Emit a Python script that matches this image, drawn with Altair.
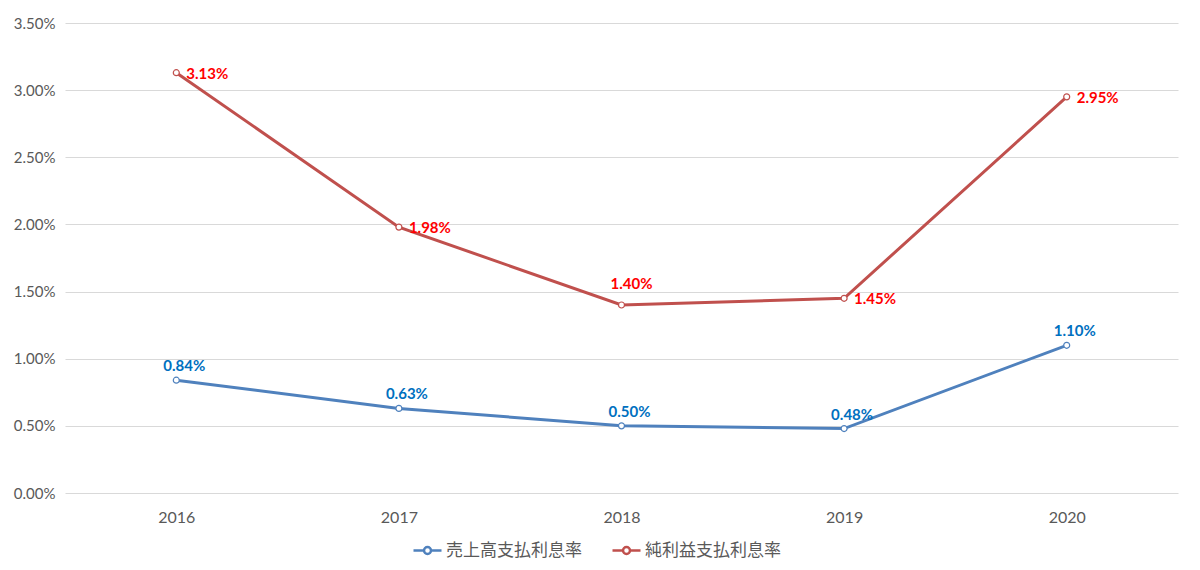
import altair as alt
import pandas as pd

years = ["2016", "2017", "2018", "2019", "2020"]
sales_rate = [0.0084, 0.0063, 0.0050, 0.0048, 0.0110]
profit_rate = [0.0313, 0.0198, 0.0140, 0.0145, 0.0295]
series_names = ["売上高支払利息率", "純利益支払利息率"]
line_colors = ["#4F81BD", "#C0504D"]
label_colors = ["#0070C0", "#FF0000"]

rows = []
for y, v in zip(years, sales_rate):
    rows.append({"year": y, "value": v, "series": series_names[0]})
for y, v in zip(years, profit_rate):
    rows.append({"year": y, "value": v, "series": series_names[1]})
df = pd.DataFrame(rows)

FONT = "Lato, Noto Sans CJK JP, sans-serif"

x = alt.X("year:O", scale=alt.Scale(type="point", padding=0.5),
          axis=alt.Axis(title=None, labelAngle=0, domain=False, ticks=False, grid=False,
                        labelFontSize=16, labelColor="#595959", labelFont=FONT, labelPadding=16))
y = alt.Y("value:Q", scale=alt.Scale(domain=[0, 0.035], nice=False),
          axis=alt.Axis(title=None, format=".2%", values=[0, 0.005, 0.01, 0.015, 0.02, 0.025, 0.03, 0.035],
                        domain=False, ticks=False, grid=True, gridColor="#D9D9D9", gridWidth=1,
                        labelFontSize=15, labelColor="#595959", labelFont=FONT, labelPadding=10))

legend_path = ("M-1,0 L-0.25,0 M0.25,0 L1,0 "
               "M-0.25,0 A0.25,0.25 0 1,1 0.25,0 A0.25,0.25 0 1,1 -0.25,0")

color = alt.Color("series:N", scale=alt.Scale(domain=series_names, range=line_colors),
                  legend=alt.Legend(title=None, orient="none", direction="horizontal",
                                    legendX=347, legendY=512,
                                    symbolType=legend_path, symbolSize=784,
                                    symbolStrokeWidth=2.5, symbolFillColor="white",
                                    labelFontSize=17, labelColor="#595959", labelFont=FONT,
                                    labelOffset=3, columnPadding=25))

base = alt.Chart(df)

lines = base.mark_line(strokeWidth=3).encode(x=x, y=y, color=color)
points = base.mark_point(filled=True, fill="white", size=36, strokeWidth=1.2, opacity=1).encode(
    x=x, y=y, stroke=alt.Stroke("series:N", scale=alt.Scale(domain=series_names, range=line_colors), legend=None))

blue_labels = base.transform_filter(alt.datum.series == series_names[0]).mark_text(
    fontWeight="bold", fontSize=15, font=FONT, color=label_colors[0], dx=8, dy=-14, align="center"
).encode(x=x, y=y, text=alt.Text("value:Q", format=".2%"))

red_labels = base.transform_filter(
    (alt.datum.series == series_names[1]) & (alt.datum.year != "2018")).mark_text(
    fontWeight="bold", fontSize=15, font=FONT, color=label_colors[1], dx=10, dy=1, align="left"
).encode(x=x, y=y, text=alt.Text("value:Q", format=".2%"))

red_label_2018 = base.transform_filter(
    (alt.datum.series == series_names[1]) & (alt.datum.year == "2018")).mark_text(
    fontWeight="bold", fontSize=15, font=FONT, color=label_colors[1], dx=10, dy=-21, align="center"
).encode(x=x, y=y, text=alt.Text("value:Q", format=".2%"))

chart = alt.layer(lines, points, blue_labels, red_labels, red_label_2018).properties(
    width=1113, height=470,
    autosize=alt.AutoSizeParams(type="none"),
    padding={"left": 57, "top": 15, "right": 14, "bottom": 67},
).configure(background="white").configure_view(stroke=None)

chart.save("out.html", embed_options={"renderer": "svg", "actions": False})
